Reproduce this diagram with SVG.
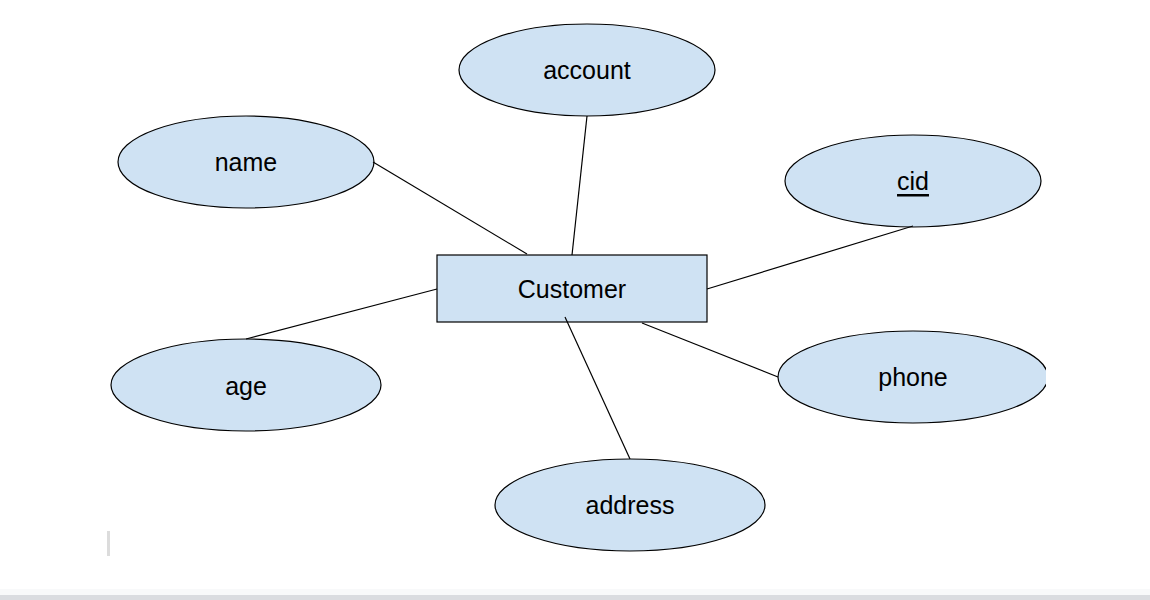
<svg xmlns="http://www.w3.org/2000/svg" width="1150" height="600" viewBox="0 0 1150 600">
<style>
.n{fill:#cfe2f3;stroke:#000;stroke-width:1.2}
.t{font-family:"Liberation Sans",Arial,sans-serif;font-size:25px;fill:#000;text-anchor:middle;dominant-baseline:central}
.c line{stroke:#000;stroke-width:1.2}
</style>
<rect width="1150" height="600" fill="#fff"/>
<rect x="0" y="589" width="1150" height="6" fill="#f8f9fa"/>
<rect x="0" y="595" width="1150" height="5" fill="#dadce0"/>
<rect x="107" y="531" width="3" height="25" fill="#dcdcdc"/>
<defs><clipPath id="cp"><rect x="0" y="0" width="1046" height="600"/></clipPath></defs>
<g id="customer"><rect class="n" x="437" y="255" width="270" height="67"/><text class="t" x="572" y="289">Customer</text></g>
<g id="account"><ellipse class="n" cx="587" cy="70" rx="128" ry="46"/><text class="t" x="587" y="70">account</text></g>
<g id="name"><ellipse class="n" cx="246" cy="162" rx="128" ry="46"/><text class="t" x="246" y="162">name</text></g>
<g id="cid"><ellipse class="n" cx="913" cy="181" rx="128" ry="46"/><text class="t" x="913" y="181" text-decoration="underline">cid</text></g>
<g id="age"><ellipse class="n" cx="246" cy="385" rx="135" ry="46"/><text class="t" x="246" y="386">age</text></g>
<g id="phone" clip-path="url(#cp)"><ellipse class="n" cx="913" cy="377" rx="135" ry="46"/><text class="t" x="913" y="377">phone</text></g>
<g id="address"><ellipse class="n" cx="630" cy="505" rx="135" ry="46"/><text class="t" x="630" y="505">address</text></g>
<g class="c" id="connectors">
<line x1="373" y1="162" x2="527" y2="254"/>
<line x1="587" y1="116" x2="572" y2="255"/>
<line x1="913" y1="226" x2="707" y2="289"/>
<line x1="246" y1="339" x2="437" y2="289"/>
<line x1="778" y1="377" x2="642" y2="323"/>
<line x1="630" y1="459" x2="565" y2="317"/>
</g>
</svg>
